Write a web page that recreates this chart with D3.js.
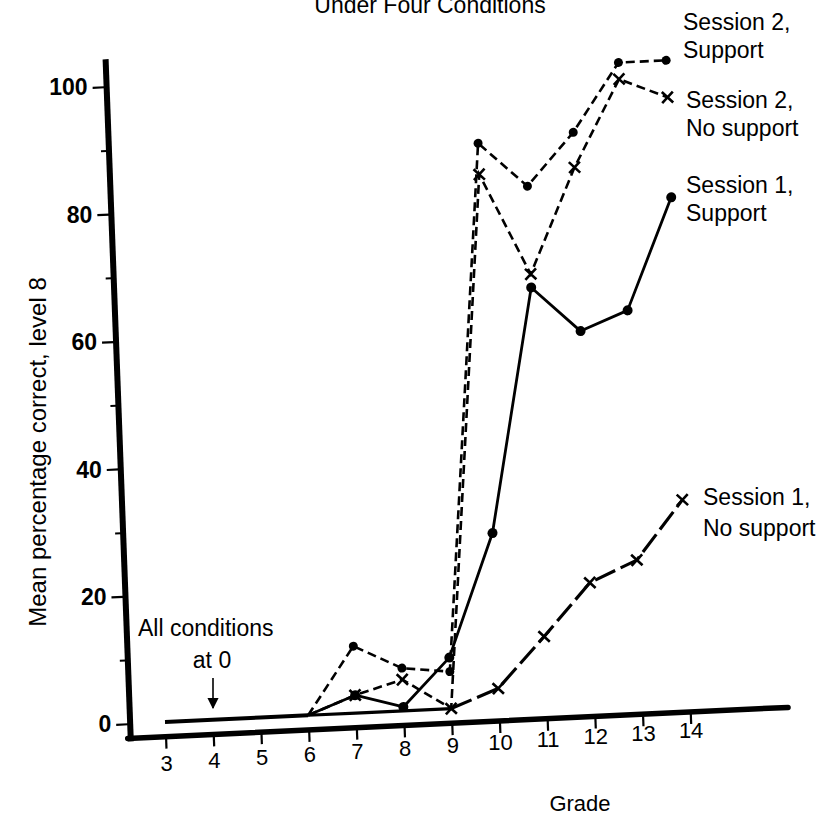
<!DOCTYPE html>
<html><head><meta charset="utf-8">
<script src="https://cdn.jsdelivr.net/npm/d3@7"></script>
<style>
body{margin:0;background:#fff;}
svg{display:block;font-family:"Liberation Sans",Arial,Helvetica,sans-serif;}
</style></head><body>
<svg id="c" width="832" height="820"></svg>
<script>
// ---- data ----
const grades = [3,4,5,6,7,8,9,10,11,12,13,14];
const laterGrades = [6,7,8,9,10,11,12,13,14];
const s2Support   = [0,10.5,6.7,5.8,88.4,81.3,89.4,100,100];
const s2NoSupport = [0,2.8,4.9,0,83.5,67.5,83.9,97.4,94.2];
const s1Support   = [0,2.8,0.6,8.0,27.2,65.4,58.2,61.1,78.5];
const s1NoSupport = [0,0,0,0,0,0,0,2.8,10.6,18.7,21.9,31.0];
const yTicks = [0,20,40,60,80,100];
const yMinorTicks = [10,30,50,70,90];

const svg = d3.select("#c");
const x = d3.scaleLinear().domain([3,14]).range([0,524.7]);
const y = d3.scaleLinear().domain([0,100]).range([0,-637]);
// the scanned figure is slightly skewed: affine frame
const M = {a:1, b:-0.047, c:0.037, d:1, e:165, f:722};
const det = M.a*M.d - M.b*M.c;
const inv = [M.d/det, -M.b/det, -M.c/det, M.a/det];
function unskew(sel){
  sel.attr("transform", function(){
    const tx = +this.getAttribute("x")||0, ty = +this.getAttribute("y")||0;
    return `translate(${tx},${ty}) matrix(${inv.join(",")},0,0) translate(${-tx},${-ty})`;
  });
}
const plot = svg.append("g").attr("transform",`matrix(${M.a},${M.b},${M.c},${M.d},${M.e},${M.f})`);

const axisG = 2.27, axisV = -2.3;
// axis lines
plot.append("line").attr("x1",x(axisG)).attr("x2",x(axisG)).attr("y1",y(axisV)+3).attr("y2",y(104.3))
  .attr("stroke","#000").attr("stroke-width",6);
plot.append("line").attr("x1",x(axisG)-3).attr("x2",x(16.05)).attr("y1",y(axisV)).attr("y2",y(axisV))
  .attr("stroke","#000").attr("stroke-width",5.5).attr("stroke-linecap","round");

// y axis ticks
const gy = plot.append("g").attr("transform",`translate(${x(axisG)-2},0)`)
  .call(d3.axisLeft(y).tickValues(yTicks).tickSize(12).tickPadding(5));
gy.select(".domain").remove();
gy.selectAll("line").attr("stroke","#000").attr("stroke-width",2.2);
gy.selectAll("text").attr("font-size",23).attr("font-weight","bold").attr("fill","#000")
  .attr("font-family","Liberation Sans, Arial, sans-serif").call(unskew);
const gym = plot.append("g").attr("transform",`translate(${x(axisG)-2},0)`)
  .call(d3.axisLeft(y).tickValues(yMinorTicks).tickSize(6).tickFormat(""));
gym.select(".domain").remove();
gym.selectAll("line").attr("stroke","#000").attr("stroke-width",2);

// x axis ticks
const gx = plot.append("g").attr("transform",`translate(0,${y(axisV)+2})`)
  .call(d3.axisBottom(x).tickValues(grades).tickSize(10).tickFormat(d3.format("d")));
gx.select(".domain").remove();
gx.selectAll("line").attr("stroke","#000").attr("stroke-width",2.2);
gx.selectAll("text").attr("font-size",22).attr("fill","#000")
  .attr("font-family","Liberation Sans, Arial, sans-serif")
  .attr("y", d => 17 - (d-3)*0.8).attr("dy","0.71em").call(unskew);

// lines
const line = d3.line().x(d=>x(d.g)).y(d=>y(d.v));
const zip = (gs,vs)=>gs.map((g,i)=>({g,v:vs[i]}));
const S2S = zip(laterGrades,s2Support), S2N = zip(laterGrades,s2NoSupport),
      S1S = zip(laterGrades,s1Support), S1N = zip(grades,s1NoSupport);

plot.append("path").datum(S1N.filter(d=>d.g<=6)).attr("d",line)
  .attr("fill","none").attr("stroke","#000").attr("stroke-width",4);
plot.append("path").datum(S1N.filter(d=>d.g>=6&&d.g<=9)).attr("d",line)
  .attr("fill","none").attr("stroke","#000").attr("stroke-width",3.2);
plot.append("path").datum(S1N.filter(d=>d.g>=9)).attr("d",line)
  .attr("fill","none").attr("stroke","#000").attr("stroke-width",3.2).attr("stroke-dasharray","22,6");
plot.append("path").datum(S1S).attr("d",line)
  .attr("fill","none").attr("stroke","#000").attr("stroke-width",2.8).attr("stroke-linejoin","round");
plot.append("path").datum(S2S).attr("d",line)
  .attr("fill","none").attr("stroke","#000").attr("stroke-width",2.6).attr("stroke-dasharray","9,5");
plot.append("path").datum(S2N).attr("d",line)
  .attr("fill","none").attr("stroke","#000").attr("stroke-width",2.6).attr("stroke-dasharray","9,5");

// markers
function dots(data,r){
  plot.append("g").selectAll("circle").data(data).join("circle")
    .attr("cx",d=>x(d.g)).attr("cy",d=>y(d.v)).attr("r",r).attr("fill","#000");
}
function crosses(data,s){
  plot.append("g").selectAll("path").data(data).join("path")
    .attr("d",d=>{const X=x(d.g),Y=y(d.v);return `M${X-s},${Y-s}L${X+s},${Y+s}M${X-s},${Y+s}L${X+s},${Y-s}`;})
    .attr("stroke","#000").attr("stroke-width",2.6).attr("fill","none");
}
dots(S1S.filter(d=>d.g>6),5);
dots(S2S.filter(d=>d.g>6),4.5);
crosses(S2N.filter(d=>d.g>6),5.5);
crosses(S1N.filter(d=>d.g>9),5.5);

// texts
const T = (t,xp,yp,opt={})=>svg.append("text").attr("x",xp).attr("y",yp).text(t)
  .attr("font-size",opt.size||23).attr("text-anchor",opt.anchor||"start").attr("fill","#000");
T("Under Four Conditions",430,13,{anchor:"middle"});
T("Session 2,",683,30); T("Support",683,58);
T("Session 2,",686,108); T("No support",686,136);
T("Session 1,",686,193); T("Support",686,221);
T("Session 1,",703,505); T("No support",703,536);
T("All conditions",138,636); T("at 0",212,668,{anchor:"middle"});
T("Grade",580,811,{anchor:"middle",size:22});
svg.append("text").attr("transform","translate(46,452) rotate(-90)").attr("text-anchor","middle")
  .attr("font-size",24).attr("fill","#000").text("Mean percentage correct, level 8");
// arrow
svg.append("defs").append("marker").attr("id","ah").attr("viewBox","0 0 10 10").attr("refX",9).attr("refY",5)
  .attr("markerWidth",7).attr("markerHeight",7).attr("orient","auto")
  .append("path").attr("d","M0,0L10,5L0,10Z").attr("fill","#000");
svg.append("line").attr("x1",213).attr("x2",213).attr("y1",678).attr("y2",708)
  .attr("stroke","#000").attr("stroke-width",1.6).attr("marker-end","url(#ah)");
</script></body></html>
